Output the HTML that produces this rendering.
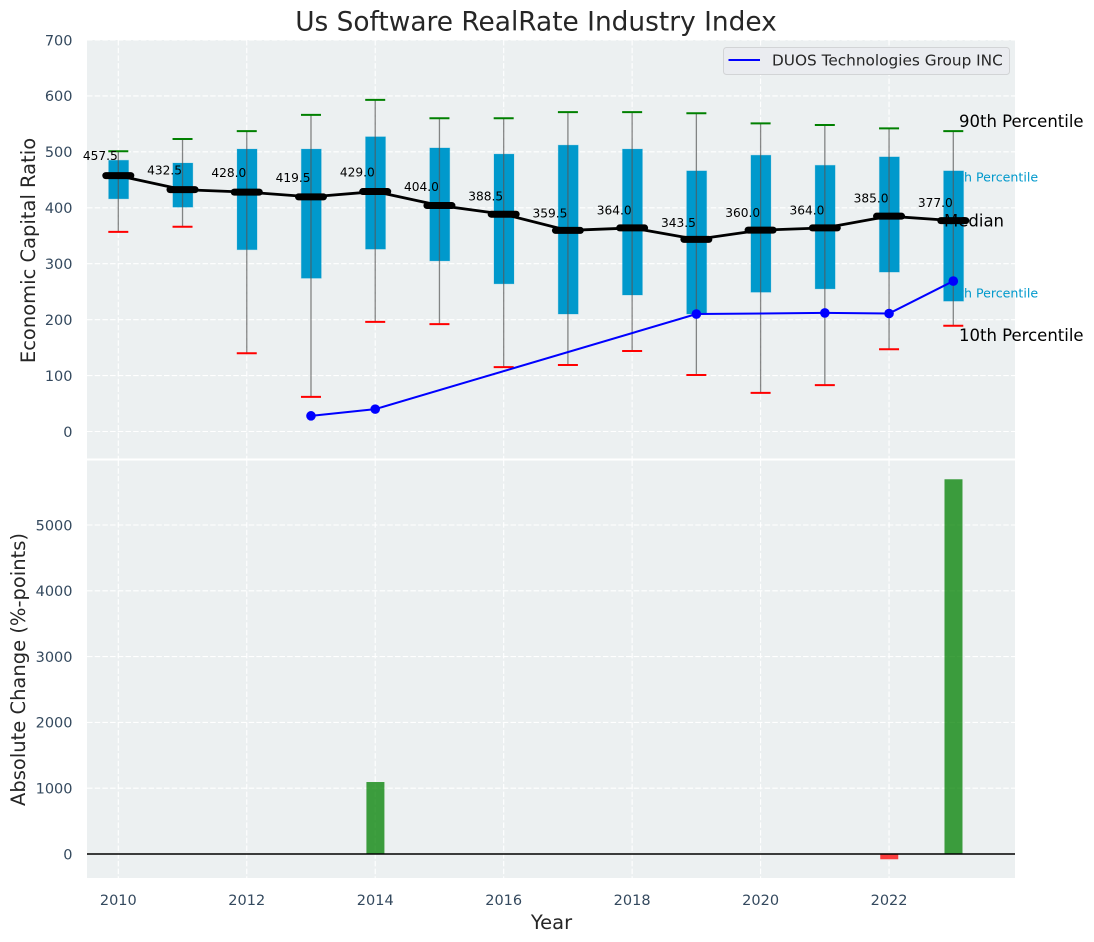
<!DOCTYPE html>
<html lang="en">
<head>
<meta charset="utf-8">
<title>Us Software RealRate Industry Index</title>
<style>
html,body{margin:0;padding:0;background:#fff;width:1094px;height:942px;overflow:hidden}
svg{display:block;font-family:"DejaVu Sans","Liberation Sans",sans-serif}
</style>
</head>
<body>
<svg id="chart" width="1094" height="942" viewBox="0 0 1094 942">
  <rect x="87" y="40" width="928" height="418.5" fill="#ecf0f1"/>
  <rect x="87" y="460.5" width="928" height="417.5" fill="#ecf0f1"/>
  <g id="grid"></g>
  <g id="ticks"></g>
  <text x="536" y="30.5" font-size="26.4" fill="#262626" text-anchor="middle">Us Software RealRate Industry Index</text>
  <text transform="translate(35,250.5) rotate(-90)" font-size="19.5" fill="#262626" text-anchor="middle">Economic Capital Ratio</text>
  <text transform="translate(25,669.5) rotate(-90)" font-size="19.5" fill="#262626" text-anchor="middle">Absolute Change (%-points)</text>
  <text x="551.5" y="929" font-size="19.5" fill="#262626" text-anchor="middle">Year</text>
  <text id="q3-note" x="943" y="181.7" font-size="12.6" fill="#0099cc">75th Percentile</text>
  <text id="q1-note" x="943" y="297.7" font-size="12.6" fill="#0099cc">25th Percentile</text>
  <g id="boxes"></g>
  <text id="med-note" x="944" y="226.3" font-size="16.5" fill="#000">Median</text>
  <g id="medians"></g>
  <g id="duos"></g>
  <g id="labels"></g>
  <text x="959" y="126.8" font-size="16.5" fill="#000">90th Percentile</text>
  <text x="959" y="341" font-size="16.5" fill="#000">10th Percentile</text>
  <g id="bars"></g>
  <line x1="87" x2="1015" y1="854" y2="854" stroke="#000" stroke-width="1.5"/>
  <g>
    <rect x="723.5" y="47.5" width="286" height="27" rx="3" fill="#eaecf0" stroke="#d2d4d6" stroke-width="1"/>
    <line x1="728.5" x2="760" y1="60" y2="60" stroke="#0000ff" stroke-width="2"/>
    <text x="772" y="65.7" font-size="15.3" fill="#262626">DUOS Technologies Group INC</text>
  </g>
</svg>
<script>
const years = [2010,2011,2012,2013,2014,2015,2016,2017,2018,2019,2020,2021,2022,2023];
const p90 = [501,523,537,566,593,560,560,571,571,569,551,548,542,537];
const q3 = [485,480,505,505,527,507,496,512,505,466,494,476,491,466];
const medianValues = [457.5,432.5,428,419.5,429,404,388.5,359.5,364,343.5,360,364,385,377];
const q1 = [416,401,325,274,326,305,264,210,244,210,249,255,285,233];
const p10 = [357,366,140,62,196,192,115,119,144,101,69,83,147,189];
const duosValues = [null,null,null,28,40,null,null,null,null,210,null,212,211,269];
const changeValues = [null,null,null,null,1094,null,null,null,null,null,null,null,-80,5695];
const topTicks = [0,100,200,300,400,500,600,700];
const bottomTicks = [0,1000,2000,3000,4000,5000];
const xTicks = [2010,2012,2014,2016,2018,2020,2022];

const NS = 'http://www.w3.org/2000/svg';
function xPos(year){ return 118.3 + (year - 2010) * 64.23; }
function yTop(value){ return 431.5 - value * 0.5593; }
function yBottom(value){ return 854 - value * 0.0658; }
function make(parentId, tag, attrs, content){
  const el = document.createElementNS(NS, tag);
  for (const k in attrs) el.setAttribute(k, attrs[k]);
  if (content !== undefined) el.textContent = content;
  document.getElementById(parentId).appendChild(el);
  return el;
}
const GRID = {stroke:'#ffffff','stroke-width':1.1,'stroke-dasharray':'5.5 2.2'};
const TICK_SIZE = 14.5;
xTicks.forEach(function(t){
  let el = make('grid','line',Object.assign({x1:xPos(t),x2:xPos(t),y1:40,y2:458.5},GRID));
  
  
  el = make('grid','line',Object.assign({x1:xPos(t),x2:xPos(t),y1:460.5,y2:878},GRID));
  
  
  el = make('ticks','text',{x:xPos(t),y:905,'font-size':TICK_SIZE,fill:'#34495e','text-anchor':'middle'},String(t));
  
  
});
topTicks.forEach(function(t){
  let el = make('grid','line',Object.assign({x1:87,x2:1015,y1:yTop(t),y2:yTop(t)},GRID));
  
  
  el = make('ticks','text',{x:72.5,y:yTop(t)+5.3,'font-size':TICK_SIZE,fill:'#34495e','text-anchor':'end'},String(t));
  
  
});
bottomTicks.forEach(function(t){
  let el = make('grid','line',Object.assign({x1:87,x2:1015,y1:yBottom(t),y2:yBottom(t)},GRID));
  
  
  el = make('ticks','text',{x:72.5,y:yBottom(t)+5.3,'font-size':TICK_SIZE,fill:'#34495e','text-anchor':'end'},String(t));
  
  
});
years.forEach(function(year,i){
  const x = xPos(year);
  let el = make('boxes','rect',{x:x-9.7,y:yTop(q3[i]),width:20,height:yTop(q1[i])-yTop(q3[i]),fill:'#0099cc',stroke:'#0099cc','stroke-opacity':0.2,'stroke-width':1});
  
  
  el = make('boxes','line',{x1:x,x2:x,y1:yTop(p90[i]),y2:yTop(p10[i]),stroke:'#555555','stroke-opacity':0.7,'stroke-width':1.3});
  
  
  el = make('boxes','line',{x1:x-10,x2:x+10,y1:yTop(p90[i]),y2:yTop(p90[i]),stroke:'#008000','stroke-width':2});
  
  
  el = make('boxes','line',{x1:x-10,x2:x+10,y1:yTop(p10[i]),y2:yTop(p10[i]),stroke:'#ff0000','stroke-width':2});
  
  
});
const medianPoints = years.map(function(year,i){ return xPos(year)+','+yTop(medianValues[i]); }).join(' ');
const medianLine = make('medians','polyline',{points:medianPoints,fill:'none',stroke:'#000','stroke-width':2.8});


years.forEach(function(year,i){
  const x = xPos(year), y = yTop(medianValues[i]);
  let el = make('medians','line',{x1:x-12.5,x2:x+12.5,y1:y,y2:y,stroke:'#000','stroke-width':7,'stroke-linecap':'round'});
  
  
  el = make('labels','text',{x:x-0.5,y:yTop(medianValues[i]*1.05)-3,'font-size':12.2,fill:'#000','text-anchor':'end'},medianValues[i].toFixed(1));
  
  
});
const duosPoints = [];
years.forEach(function(year,i){
  if (duosValues[i] !== null) duosPoints.push(xPos(year)+','+yTop(duosValues[i]));
});
const duosLine = make('duos','polyline',{points:duosPoints.join(' '),fill:'none',stroke:'#0000ff','stroke-width':2});


years.forEach(function(year,i){
  if (duosValues[i] === null) return;
  const el = make('duos','circle',{cx:xPos(year),cy:yTop(duosValues[i]),r:4.8,fill:'#0000ff'});
  
  
});
years.forEach(function(year,i){
  const v = changeValues[i];
  if (v === null) return;
  const el = make('bars','rect',{x:xPos(year)-8.8,y:Math.min(yBottom(v),yBottom(0)),width:18,height:Math.abs(yBottom(v)-yBottom(0)),fill:v>=0?'#008000':'#ff0000','fill-opacity':0.75});
  
  
});
</script>
</body>
</html>
